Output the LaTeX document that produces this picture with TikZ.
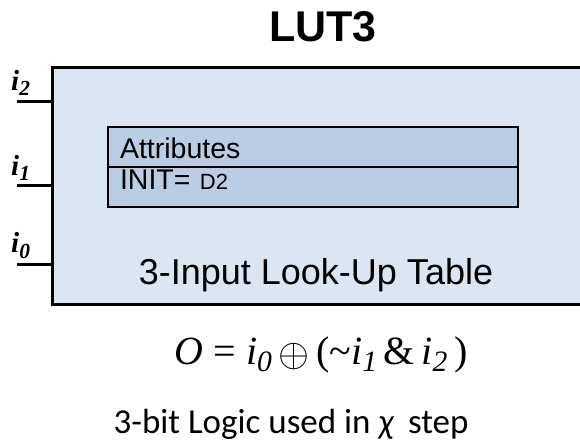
\documentclass[tikz,border=0pt]{standalone}
\usepackage{graphicx}
\usepackage{fontspec}
\setmainfont{Liberation Serif}
\newfontfamily\arialfont{Liberation Sans}
\newfontfamily\calibrifont{Carlito}
\usetikzlibrary{positioning}
\definecolor{lutblue}{HTML}{DCE6F2}
\definecolor{attrblue}{HTML}{B9CDE5}
\tikzstyle{lutbody}=[
  draw,line width=3pt,fill=lutblue,inner sep=0pt
]
\tikzstyle{attrrow}=[
  draw,line width=2pt,fill=attrblue,outer sep=0pt,inner xsep=12pt,inner ysep=0pt,
  minimum width=410pt,minimum height=40pt,text width=386pt,align=left,
  font=\arialfont\fontsize{28.5}{28}\selectfont
]
\tikzstyle{pin}=[
  line width=3pt
]
\tikzstyle{inlabel}=[
  inner sep=0pt,font=\fontsize{29}{29}\selectfont\bfseries\itshape
]
\newcommand{\lowidx}[1]{\raisebox{-0.42ex}{\scalebox{0.74}{\itshape #1}}}

\begin{document}
\begin{tikzpicture}[x=1pt,y=-1pt]
    \useasboundingbox (0,0) rectangle (580,443);
    % body of the LUT, runs past the right edge
    \node[lutbody,minimum width=560pt,minimum height=236pt,anchor=north west] (lut) at (50.5,66.5) {};
    \node[anchor=base,font=\arialfont\bfseries\fontsize{43}{43}\selectfont] (title) at (323,42) {LUT3};
    % input pins
    \coordinate (p2) at (17,102);
    \coordinate (p1) at (17,186);
    \coordinate (p0) at (17,265);
    \draw[pin] (p2) -- (p2 -| lut.west);
    \draw[pin] (p1) -- (p1 -| lut.west);
    \draw[pin] (p0) -- (p0 -| lut.west);
    \node[inlabel,anchor=south west] (l2) at (11,96) {i\lowidx{2}};
    \node[inlabel,anchor=south west] (l1) at (11,181) {i\lowidx{1}};
    \node[inlabel,anchor=south west] (l0) at (11,259) {i\lowidx{0}};
    % attribute table
    \node[attrrow,anchor=north west,text height=23pt,text depth=0pt] (attrs) at (108,127.5) {Attributes};
    \node[attrrow,below=0pt of attrs,text height=20pt,text depth=15pt] (init) {INIT= {\fontsize{22}{22}\selectfont D2}};
    \node[anchor=base,font=\arialfont\fontsize{36}{36}\selectfont] (desc) at (316,284) {3-Input Look-Up Table};
    % logic function
    \node[anchor=base,font=\fontsize{40}{40}\selectfont] (func) at (321,364)
      {\textit{O} = \textit{i}\lowidx{0}\,\raisebox{-2pt}{\scalebox{1.6}{$\oplus$}}\,(\textasciitilde\textit{i}\lowidx{1}\,\&\,\textit{i}\lowidx{2}\,)};
    \node[anchor=base,font=\calibrifont\fontsize{35}{35}\selectfont] (note) at (291,433)
      {3-bit Logic used in \textit{χ}\, step};
\end{tikzpicture}
\end{document}
